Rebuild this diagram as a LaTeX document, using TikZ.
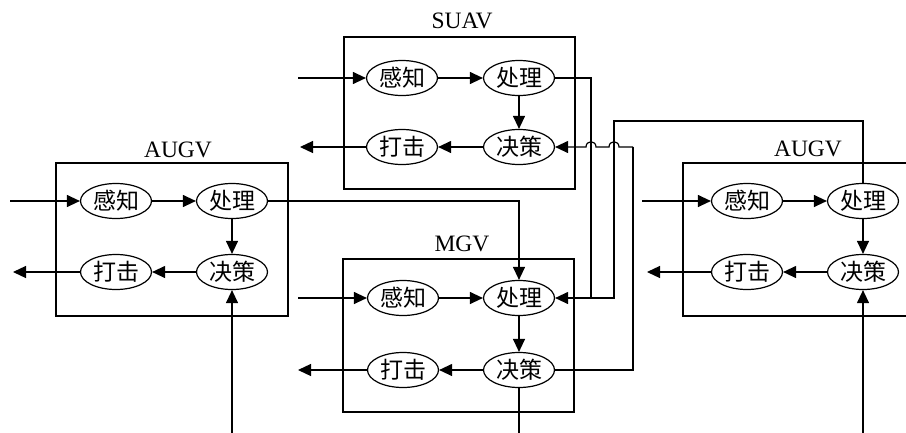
\documentclass[tikz,border=0pt]{standalone}
\usepackage{fontspec}
\setmainfont{Liberation Serif}
\newfontfamily\cjk{Noto Sans CJK SC}
\usetikzlibrary{shapes.geometric,arrows.meta}
\begin{document}
\begin{tikzpicture}[x=1pt,y=-1pt,line width=1.2pt,
  proc/.style={ellipse,draw,minimum width=71pt,minimum height=35pt,inner sep=0pt,font=\cjk\fontsize{23}{25}\selectfont},
  sysbox/.style={draw,line width=1.2pt,inner sep=0pt},
  lbl/.style={font=\fontsize{23.5}{26}\selectfont,inner sep=0pt,anchor=base},
  arr/.style={-{Triangle[length=13pt,width=12pt]}},
]
\useasboundingbox (0,0) rectangle (906,432);
\clip (0,0) rectangle (906,432);
% boxes
\node[sysbox,minimum width=231pt,minimum height=152pt] (suav) at (459.5,113) {};
\node[sysbox,minimum width=231pt,minimum height=153pt] (mgv) at (458.5,335.5) {};
\node[sysbox,minimum width=232pt,minimum height=153pt] (augvl) at (172,239.5) {};
\node[sysbox,minimum width=250pt,minimum height=153pt] (augvr) at (808,239.5) {};
\node[lbl] (lsuav) at (462,28) {SUAV};
\node[lbl] (lmgv) at (462,251) {MGV};
\node[lbl] (laugvl) at (178,157) {AUGV};
\node[lbl] (laugvr) at (808,156) {AUGV};
% SUAV
\node[proc] (s1) at (402,78) {感知};
\node[proc] (s2) at (519,78) {处理};
\node[proc] (s3) at (519,147) {决策};
\node[proc] (s4) at (402,147) {打击};
% MGV
\node[proc] (m1) at (403,298) {感知};
\node[proc] (m2) at (519,298) {处理};
\node[proc] (m3) at (519,370) {决策};
\node[proc] (m4) at (403,370) {打击};
% AUGV left
\node[proc] (a1) at (116,201) {感知};
\node[proc] (a2) at (232,201) {处理};
\node[proc] (a3) at (232,272) {决策};
\node[proc] (a4) at (116,272) {打击};
% AUGV right
\node[proc] (b1) at (747,201) {感知};
\node[proc] (b2) at (863,201) {处理};
\node[proc] (b3) at (863,272) {决策};
\node[proc] (b4) at (747,272) {打击};
% free ends
\coordinate (ain) at (10,201);
\coordinate (aout) at (13,272);
\coordinate (abot) at (232,434);
\coordinate (sin) at (298,78);
\coordinate (sout) at (300,147);
\coordinate (min) at (298,298);
\coordinate (mout) at (298,370);
\coordinate (mbot) at (519,434);
\coordinate (bin) at (642,201);
\coordinate (bout) at (647,272);
\coordinate (bbot) at (863,434);
\coordinate (join) at (591,298);
\coordinate (bend) at (633,147);
% internal flows
\foreach \p in {s,m,a,b}{
  \draw[arr] (\p1) -- (\p2);
  \draw[arr] (\p2) -- (\p3);
  \draw[arr] (\p3) -- (\p4);
}
% inputs / outputs
\draw[arr] (ain) -- (a1);
\draw[arr] (a4) -- (aout);
\draw[arr] (abot) -- (a3);
\draw[arr] (sin) -- (s1);
\draw[arr] (s4) -- (sout);
\draw[arr] (min) -- (m1);
\draw[arr] (m4) -- (mout);
\draw (m3) -- (mbot);
\draw[arr] (bin) -- (b1);
\draw[arr] (b4) -- (bout);
\draw[arr] (bbot) -- (b3);
% links between systems
\draw[arr] (a2.east) -| (m2.north);
\draw[arr] (b2.north) |- (614,121) -- (614,298) -- (m2.east);
\draw (s2.east) -| (join);
\draw (m3.east) -| (bend);
\draw[arr] (bend) -- (619,147)
  .. controls (619,140) and (609,140) .. (609,147) -- (596,147)
  .. controls (596,140) and (586,140) .. (586,147) -- (s3.east);
\end{tikzpicture}
\end{document}
